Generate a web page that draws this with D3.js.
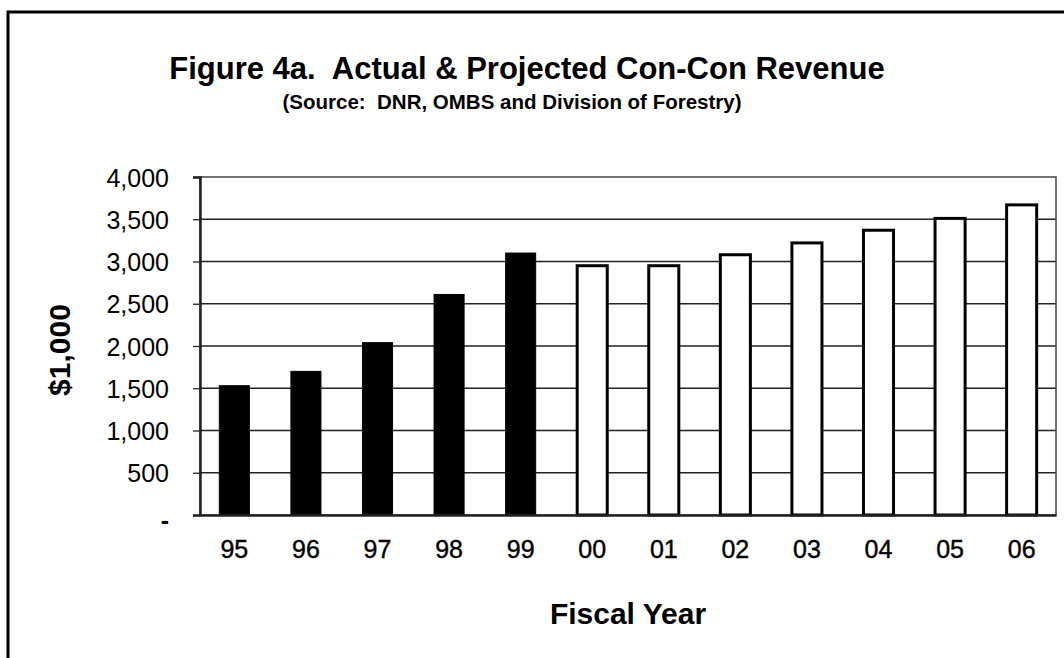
<!DOCTYPE html>
<html>
<head>
<meta charset="utf-8">
<script src="https://cdn.jsdelivr.net/npm/d3@7"></script>
<style>
  body { margin: 0; background: #fff; }
  svg text { fill: #000; white-space: pre; }
  .narrow { font-family: "Liberation Sans Narrow", "Arial Narrow", "Liberation Sans", Arial, sans-serif; font-weight: bold; }
  .y.axis text { font-family: "Liberation Sans", Arial, sans-serif; font-size: 25px; }
  .x.axis text { font-family: "Liberation Sans Narrow", "Arial Narrow", "Liberation Sans", sans-serif; font-size: 25px; stroke: #000; stroke-width: 0.4px; }
</style>
</head>
<body>
<div id="column-chart"></div>
<script>
// Data ($1,000)
var YEARS = ["95", "96", "97", "98", "99", "00", "01", "02", "03", "04", "05", "06"];
var REVENUE = [1530, 1700, 2040, 2610, 3100, 2950, 2950, 3080, 3220, 3370, 3510, 3670];
var KIND = ["actual", "actual", "actual", "actual", "actual",
  "projected", "projected", "projected", "projected", "projected", "projected", "projected"];
var Y_TICKS = [0, 500, 1000, 1500, 2000, 2500, 3000, 3500, 4000];

var fmtComma = d3.format(",");

var render = function() {
  var width = 1064;
  var height = 658;
  var margins = { top: 177, right: 8, bottom: 143, left: 200 };
  var chartWidth = width - margins.left - margins.right;
  var chartHeight = height - margins.top - margins.bottom;

  var data = YEARS.map((y, i) => ({ year: y, value: REVENUE[i], kind: KIND[i] }));

  var svg = d3.select("#column-chart")
    .append("svg")
    .attr("width", width)
    .attr("height", height);

  // outer frame (only top & left edges visible in the scan)
  svg.append("path")
    .attr("d", "M8,660 L8,12 L1070,12")
    .attr("fill", "none")
    .attr("stroke", "#000")
    .attr("stroke-width", 3);

  // titles
  svg.append("text")
    .attr("class", "narrow")
    .attr("x", 527)
    .attr("y", 79)
    .attr("text-anchor", "middle")
    .style("font-size", "31px")
    .text("Figure 4a.  Actual & Projected Con-Con Revenue");

  svg.append("text")
    .attr("class", "narrow")
    .attr("x", 512)
    .attr("y", 109)
    .attr("text-anchor", "middle")
    .style("font-size", "20.5px")
    .text("(Source:  DNR, OMBS and Division of Forestry)");

  var chartElement = svg.append("g")
    .attr("transform", `translate(${margins.left},${margins.top})`);

  var xScale = d3.scaleBand()
    .domain(YEARS)
    .range([0, chartWidth])
    .paddingInner(0.58)
    .paddingOuter(0.27);

  var yScale = d3.scaleLinear()
    .domain([0, 4000])
    .range([chartHeight, 0]);

  // grid
  chartElement.append("g")
    .attr("class", "grid")
    .selectAll("line")
    .data(Y_TICKS.filter(d => d > 0 && d < 4000))
    .enter()
    .append("line")
    .attr("x1", 0)
    .attr("x2", chartWidth)
    .attr("y1", d => yScale(d))
    .attr("y2", d => yScale(d))
    .attr("stroke", "#222")
    .attr("stroke-width", 1.3);

  // plot border
  chartElement.append("rect")
    .attr("x", 0)
    .attr("y", 0)
    .attr("width", chartWidth)
    .attr("height", chartHeight)
    .attr("fill", "none")
    .attr("stroke", "#444")
    .attr("stroke-width", 1.5);

  // bars
  chartElement.append("g")
    .attr("class", "bars")
    .selectAll("rect")
    .data(data)
    .enter()
    .append("rect")
    .attr("x", d => xScale(d.year))
    .attr("y", d => yScale(d.value))
    .attr("width", xScale.bandwidth())
    .attr("height", d => yScale(0) - yScale(d.value))
    .attr("fill", d => d.kind == "actual" ? "#000" : "#fff")
    .attr("stroke", "#000")
    .attr("stroke-width", d => d.kind == "actual" ? 1 : 3);

  // y axis
  var yAxis = d3.axisLeft(yScale)
    .tickValues(Y_TICKS)
    .tickSize(7)
    .tickPadding(24)
    .tickFormat(d => d == 0 ? "-" : fmtComma(d));

  var yAxisG = chartElement.append("g")
    .attr("class", "y axis")
    .call(yAxis);
  yAxisG.select(".domain")
    .attr("stroke", "#222")
    .attr("stroke-width", 2.5);
  yAxisG.selectAll(".tick line").attr("stroke", "#222").attr("stroke-width", 1.3);
  yAxisG.selectAll(".tick text").attr("dy", "0.36em");
  yAxisG.selectAll(".tick text").filter(d => d == 0)
    .attr("dy", "0.55em")
    .style("font-weight", "bold");

  // x axis
  var xAxis = d3.axisBottom(xScale)
    .tickSize(0)
    .tickPadding(25);

  var xAxisG = chartElement.append("g")
    .attr("class", "x axis")
    .attr("transform", `translate(0,${chartHeight})`)
    .call(xAxis);
  xAxisG.select(".domain")
    .attr("stroke", "#222")
    .attr("stroke-width", 2.5);

  // axis titles
  svg.append("text")
    .attr("class", "narrow")
    .attr("x", 628)
    .attr("y", 624)
    .attr("text-anchor", "middle")
    .style("font-size", "30px")
    .text("Fiscal Year");

  svg.append("text")
    .attr("class", "narrow")
    .attr("transform", "translate(70,350) rotate(-90)")
    .attr("text-anchor", "middle")
    .style("font-size", "30px")
    .text("$1,000");
};

window.onload = render;
</script>
</body>
</html>
